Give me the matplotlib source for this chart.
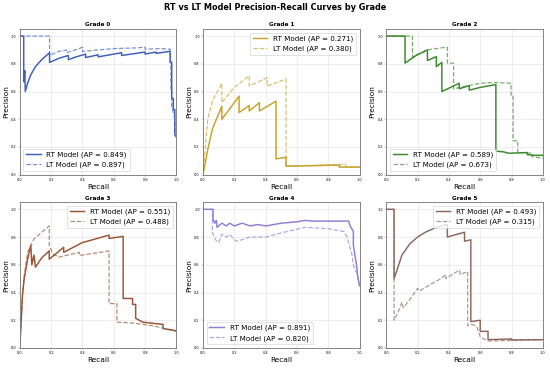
import matplotlib
matplotlib.use('Agg')
import matplotlib.pyplot as plt

# Grade names, colours and AP values
grades = ['Grade 0', 'Grade 1', 'Grade 2', 'Grade 3', 'Grade 4', 'Grade 5']
colors = ['#3f5fbf', '#c9a227', '#3a8a2a', '#9a5534', '#8f7fd8', '#8b6a5c']
rt_ap = [0.849, 0.271, 0.589, 0.551, 0.891, 0.493]
lt_ap = [0.897, 0.380, 0.673, 0.488, 0.820, 0.315]
legend_loc = ['lower left', 'upper right', 'lower left', 'upper right', 'lower left', 'upper right']

# PR curve vertices (recall, precision)
rt_recall_0 = [0.0, 0.025, 0.025, 0.032, 0.035, 0.05, 0.07, 0.1, 0.14, 0.19, 0.19, 0.25, 0.31, 0.31, 0.36, 0.42, 0.42,
               0.5, 0.5, 0.6, 0.65, 0.65, 0.8, 0.8, 0.87, 0.87, 0.96, 0.96, 0.97, 0.97, 0.98, 0.98, 0.99, 0.99, 1.0]
rt_prec_0 = [1.0, 1.0, 0.67, 0.75, 0.6, 0.66, 0.72, 0.78, 0.83, 0.88, 0.81, 0.84, 0.86, 0.83, 0.85, 0.87, 0.845,
             0.865, 0.85, 0.87, 0.88, 0.86, 0.885, 0.87, 0.885, 0.875, 0.89, 0.81, 0.81, 0.55, 0.55, 0.47, 0.47, 0.29, 0.27]
lt_recall_0 = [0.0, 0.19, 0.19, 0.25, 0.3, 0.3, 0.38, 0.4, 0.4, 0.5, 0.6, 0.75, 0.8, 0.8, 0.9, 0.96, 0.96, 0.965,
               0.965, 0.97, 0.97, 0.98, 0.99, 0.99, 1.0]
lt_prec_0 = [1.0, 1.0, 0.86, 0.89, 0.9, 0.88, 0.91, 0.92, 0.89, 0.9, 0.91, 0.915, 0.92, 0.905, 0.91, 0.905, 0.82, 0.82,
             0.62, 0.62, 0.5, 0.45, 0.4, 0.3, 0.28]

rt_recall_1 = [0.0, 0.03, 0.06, 0.12, 0.12, 0.18, 0.23, 0.23, 0.295, 0.295, 0.36, 0.36, 0.466, 0.466, 0.53, 0.53,
               0.7, 0.87, 0.87, 1.0]
rt_prec_1 = [0.0, 0.18, 0.33, 0.495, 0.40, 0.49, 0.567, 0.448, 0.50, 0.46, 0.52, 0.46, 0.53, 0.114, 0.126, 0.062,
             0.065, 0.07, 0.055, 0.055]
lt_recall_1 = [0.0, 0.03, 0.06, 0.12, 0.12, 0.2, 0.295, 0.295, 0.41, 0.41, 0.53, 0.53, 0.7, 0.91, 0.91, 1.0]
lt_prec_1 = [0.0, 0.4, 0.53, 0.66, 0.52, 0.63, 0.714, 0.64, 0.70, 0.64, 0.69, 0.06, 0.068, 0.075, 0.06, 0.055]

rt_recall_2 = [0.0, 0.12, 0.12, 0.19, 0.263, 0.263, 0.32, 0.32, 0.355, 0.355, 0.466, 0.466, 0.53, 0.53, 0.6, 0.7,
               0.7, 0.75, 0.78, 0.9, 0.9, 0.95, 1.0]
rt_prec_2 = [1.0, 1.0, 0.805, 0.86, 0.9, 0.824, 0.852, 0.78, 0.81, 0.60, 0.66, 0.62, 0.643, 0.61, 0.63, 0.65,
             0.17, 0.165, 0.155, 0.16, 0.145, 0.14, 0.14]
lt_recall_2 = [0.0, 0.167, 0.167, 0.26, 0.35, 0.39, 0.39, 0.43, 0.43, 0.6, 0.68, 0.797, 0.797, 0.81, 0.81, 0.84,
               0.84, 0.93, 0.93, 1.0]
lt_prec_2 = [1.0, 1.0, 0.85, 0.9, 0.915, 0.92, 0.805, 0.805, 0.62, 0.66, 0.665, 0.66, 0.575, 0.575, 0.245, 0.245,
             0.16, 0.155, 0.13, 0.12]

rt_recall_3 = [0.0, 0.017, 0.028, 0.05, 0.07, 0.077, 0.09, 0.1, 0.14, 0.188, 0.188, 0.28, 0.28, 0.4, 0.57, 0.57,
               0.66, 0.66, 0.72, 0.72, 0.74, 0.74, 0.786, 0.915, 0.915, 1.0]
rt_prec_3 = [0.0, 0.38, 0.5, 0.64, 0.74, 0.6, 0.67, 0.583, 0.65, 0.70, 0.64, 0.726, 0.69, 0.76, 0.814, 0.79,
             0.805, 0.357, 0.357, 0.314, 0.314, 0.214, 0.186, 0.17, 0.14, 0.124]
lt_recall_3 = [0.0, 0.017, 0.028, 0.05, 0.09, 0.188, 0.188, 0.21, 0.25, 0.38, 0.38, 0.57, 0.57, 0.62, 0.62, 0.72,
               0.85, 1.0]
lt_prec_3 = [0.0, 0.38, 0.52, 0.69, 0.786, 0.88, 0.74, 0.68, 0.655, 0.69, 0.667, 0.70, 0.32, 0.32, 0.186, 0.18,
             0.16, 0.12]

rt_recall_4 = [0.0, 0.064, 0.064, 0.075, 0.085, 0.09, 0.12, 0.15, 0.17, 0.2, 0.25, 0.3, 0.35, 0.4, 0.5, 0.6,
               0.65, 0.7, 0.93, 0.94, 0.96, 0.96, 0.98, 0.99, 1.0]
rt_prec_4 = [1.0, 1.0, 0.93, 0.9, 0.92, 0.87, 0.9, 0.88, 0.9, 0.88, 0.9, 0.88, 0.89, 0.88, 0.9, 0.91,
             0.92, 0.915, 0.915, 0.88, 0.84, 0.74, 0.6, 0.5, 0.45]
lt_recall_4 = [0.0, 0.06, 0.06, 0.08, 0.1, 0.12, 0.15, 0.17, 0.2, 0.22, 0.3, 0.4, 0.5, 0.65, 0.8, 0.9, 0.92,
               0.95, 0.96, 0.97, 0.98, 1.0]
lt_prec_4 = [1.0, 1.0, 0.83, 0.78, 0.76, 0.82, 0.8, 0.82, 0.78, 0.77, 0.8, 0.8, 0.83, 0.87, 0.86, 0.84, 0.8,
             0.68, 0.6, 0.56, 0.55, 0.44]

rt_recall_5 = [0.0, 0.05, 0.05, 0.08, 0.1, 0.15, 0.2, 0.25, 0.3, 0.35, 0.39, 0.39, 0.5, 0.5, 0.54, 0.54, 0.6,
               0.6, 0.65, 0.65, 0.8, 0.8, 1.0]
rt_prec_5 = [1.0, 1.0, 0.5, 0.6, 0.67, 0.75, 0.8, 0.835, 0.86, 0.88, 0.89, 0.8, 0.835, 0.77, 0.78, 0.19, 0.2,
             0.12, 0.12, 0.06, 0.065, 0.058, 0.06]
lt_recall_5 = [0.0, 0.05, 0.05, 0.08, 0.1, 0.11, 0.15, 0.2, 0.21, 0.3, 0.35, 0.38, 0.38, 0.45, 0.47, 0.47, 0.52,
               0.52, 0.55, 0.58, 0.6, 0.65, 1.0]
lt_prec_5 = [1.0, 1.0, 0.2, 0.27, 0.33, 0.29, 0.35, 0.43, 0.41, 0.47, 0.5, 0.53, 0.5, 0.55, 0.56, 0.53, 0.55,
             0.16, 0.17, 0.15, 0.08, 0.05, 0.06]

rt_recall = [rt_recall_0, rt_recall_1, rt_recall_2, rt_recall_3, rt_recall_4, rt_recall_5]
rt_prec = [rt_prec_0, rt_prec_1, rt_prec_2, rt_prec_3, rt_prec_4, rt_prec_5]
lt_recall = [lt_recall_0, lt_recall_1, lt_recall_2, lt_recall_3, lt_recall_4, lt_recall_5]
lt_prec = [lt_prec_0, lt_prec_1, lt_prec_2, lt_prec_3, lt_prec_4, lt_prec_5]

fig, axes = plt.subplots(2, 3, figsize=(16.5, 11.07))
fig.suptitle('RT vs LT Model Precision-Recall Curves by Grade', fontsize=17.5, fontweight='bold', y=0.993)

for i, ax in enumerate(axes.flat):
    c = colors[i]
    ax.plot(rt_recall[i], rt_prec[i], color=c, linewidth=3.2, label=f'RT Model (AP = {rt_ap[i]:.3f})')
    ax.plot(lt_recall[i], lt_prec[i], color=c, linewidth=2.6, linestyle='--', alpha=0.7,
            label=f'LT Model (AP = {lt_ap[i]:.3f})')
    ax.set_xlim([0.0, 1.0])
    ax.set_ylim([0.0, 1.05])
    ax.set_xlabel('Recall', fontsize=16)
    ax.set_ylabel('Precision', fontsize=16)
    ax.set_title(grades[i], fontsize=12.5, fontweight='bold')
    ax.tick_params(labelsize=7.5, color='#808080')
    leg = ax.legend(loc=legend_loc[i], fontsize=15.5)
    leg.get_frame().set_linewidth(1.5)
    ax.grid(True, alpha=0.3, linewidth=1.5)
    for s in ax.spines.values():
        s.set_color('#808080')
        s.set_linewidth(2)

plt.subplots_adjust(left=0.036, right=0.987, top=0.921, bottom=0.057, wspace=0.17, hspace=0.19)
plt.savefig('out.png', dpi=100 / 3)
